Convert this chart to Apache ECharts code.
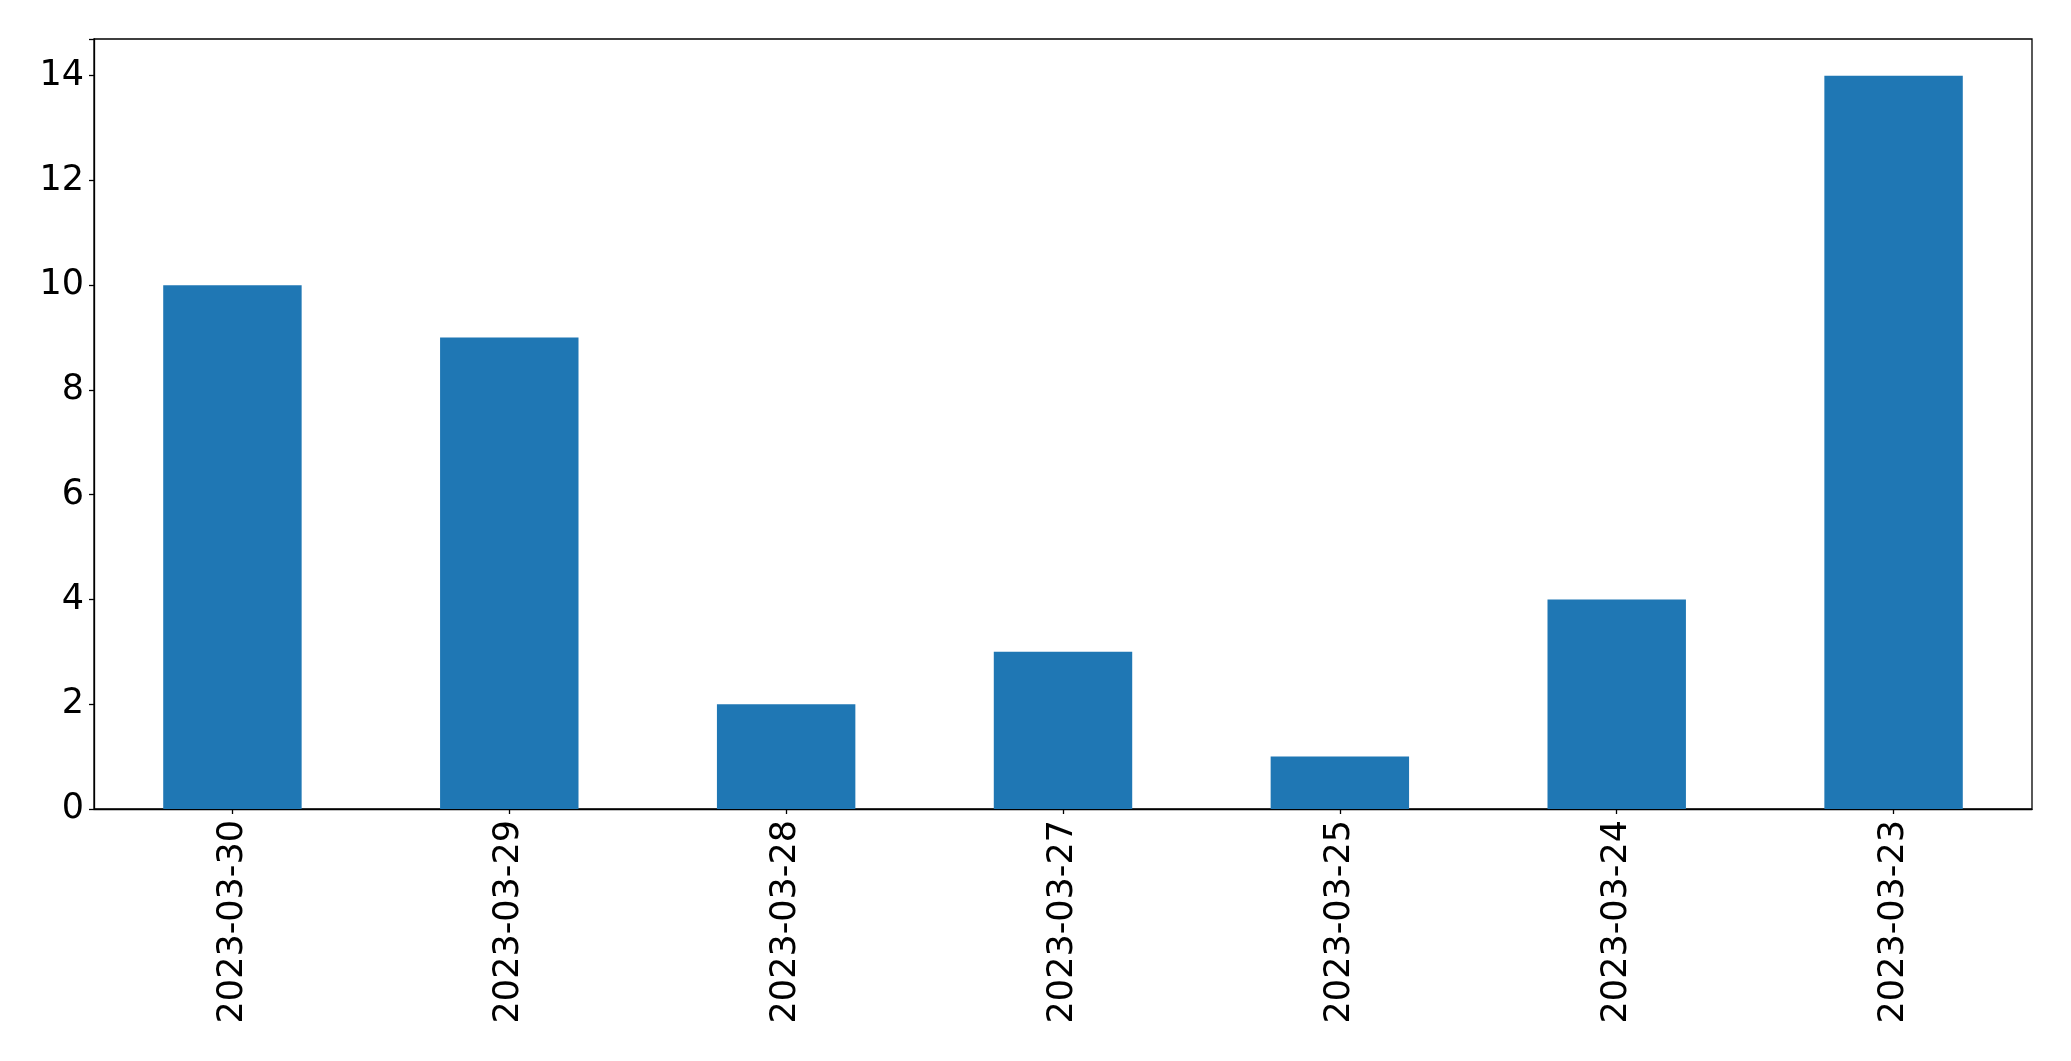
<!DOCTYPE html>
<html>
<head>
<meta charset="utf-8">
<script src="https://cdn.jsdelivr.net/npm/echarts@6/dist/echarts.min.js"></script>
<style>
html,body{margin:0;padding:0;background:#fff;}
#chart{width:2071px;height:1061px;}
</style>
</head>
<body>
<div id="chart"></div>
<script>
const categories = ["2023-03-30","2023-03-29","2023-03-28","2023-03-27","2023-03-25","2023-03-24","2023-03-23"];
const values = [10, 9, 2, 3, 1, 4, 14];
const yTicks = [0, 2, 4, 6, 8, 10, 12, 14];

const chart = echarts.init(document.getElementById('chart'), null, {renderer: 'canvas'});
const font = 'DejaVu Sans';
chart.setOption({
  animation: false,
  backgroundColor: '#fff',
  grid: {
    left: 94, right: 39, top: 39, bottom: 252,
    show: true, borderColor: '#000', borderWidth: 1.3, backgroundColor: 'transparent'
  },
  xAxis: {
    type: 'category',
    data: categories,
    boundaryGap: true,
    axisLine: {show: true, lineStyle: {color: '#000', width: 1.3}},
    axisTick: {show: true, alignWithLabel: true, length: 5, lineStyle: {color: '#000', width: 1.3}},
    axisLabel: {rotate: 90, margin: 11, color: '#000', fontFamily: font, fontSize: 35, interval: 0}
  },
  yAxis: {
    type: 'value',
    min: 0, max: 14.7, interval: 2,
    axisLine: {show: true, lineStyle: {color: '#000', width: 1.3}},
    axisTick: {show: true, length: 5, lineStyle: {color: '#000', width: 1.3}},
    splitLine: {show: false},
    axisLabel: {
      margin: 10, color: '#000', fontFamily: font, fontSize: 35,
      formatter: function (v) { return yTicks.indexOf(v) >= 0 ? String(v) : ''; }
    }
  },
  series: [{
    type: 'bar',
    data: values,
    barWidth: '50%',
    itemStyle: {color: '#1f77b4'}
  }]
});
</script>
</body>
</html>
